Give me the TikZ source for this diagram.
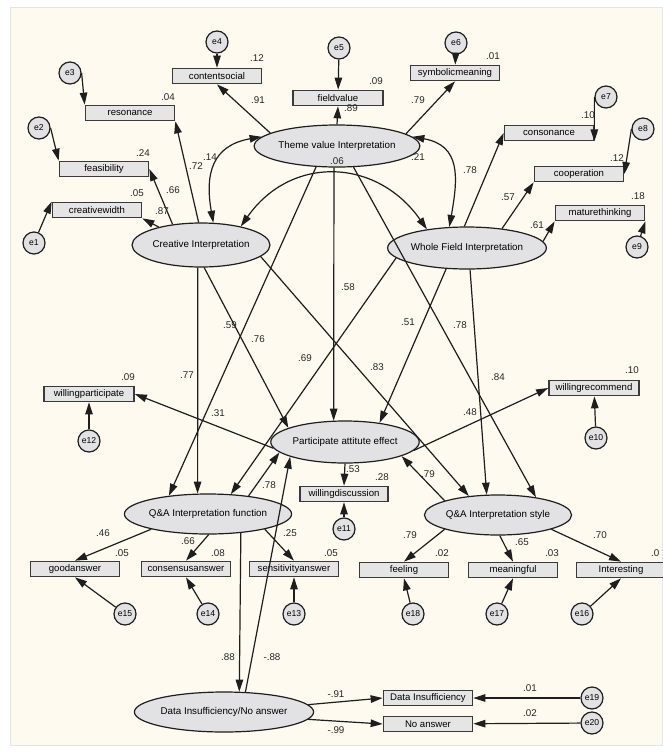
\documentclass[tikz,border=0pt]{standalone}
\usepackage{fontspec}
\setmainfont{Liberation Sans}
\usetikzlibrary{arrows.meta,shapes.geometric}
\definecolor{bgcream}{RGB}{254,250,239}
\definecolor{latfill}{RGB}{226,226,229}
\definecolor{boxfill}{RGB}{229,229,229}
\definecolor{edgegray}{RGB}{30,30,30}
\definecolor{boxline}{RGB}{58,58,58}
\tikzset{
  latent/.style={ellipse, draw=edgegray, line width=1.2pt, fill=latfill,
    inner sep=0pt, minimum height=42pt, font=\fontsize{9.8}{11}\selectfont},
  obsbox/.style={rectangle, draw=boxline, line width=1.7pt, fill=boxfill,
    minimum width=89pt, minimum height=15pt, inner sep=0pt,
    font=\fontsize{9.6}{10}\selectfont},
  errc/.style={circle, draw=edgegray, line width=1.2pt, fill=latfill,
    minimum size=22pt, inner sep=0pt, font=\fontsize{8.6}{9}\selectfont},
  pathln/.style={-{Triangle[length=12pt,width=7.5pt]}, line width=1.2pt, edgegray},
  covln/.style={{Triangle[length=12pt,width=7.5pt]}-{Triangle[length=12pt,width=7.5pt]},
    line width=1.2pt, edgegray},
  coef/.style={inner sep=0pt, font=\fontsize{9.8}{10}\selectfont, text=black!85},
}
\begin{document}
\begin{tikzpicture}[x=1pt,y=-1pt]
  % page, cream canvas
  \useasboundingbox (0,0) rectangle (662,753);
  \fill[white] (0,0) rectangle (662,753);
  \filldraw[fill=bgcream, draw=black!10] (10,7) rectangle (662,745);

  % latent variables
  \node[latent, minimum width=130pt] (theme) at (337,146) {Theme value Interpretation};
  \node[latent, minimum width=138pt, minimum height=44pt] (creative) at (201,245) {Creative Interpretation};
  \node[latent, minimum width=141pt] (whole) at (467,248) {Whole Field Interpretation};
  \node[latent, minimum width=136pt] (particip) at (345,442) {Participate attitute effect};
  \node[latent, minimum width=137pt, minimum height=40pt] (qafunc) at (208,514) {Q\&A Interpretation function};
  \node[latent, minimum width=137pt, minimum height=40pt] (qastyle) at (498,515) {Q\&A Interpretation style};
  \node[latent, minimum width=162pt, minimum height=40pt] (datains) at (224,712) {Data Insufficiency/No answer};

  % observed variables
  \node[obsbox] (contentsocial) at (217,76) {contentsocial};
  \node[obsbox] (resonance) at (130,113) {resonance};
  \node[obsbox] (feasibility) at (104,169) {feasibility};
  \node[obsbox] (creativewidth) at (97,210) {creativewidth};
  \node[obsbox, minimum width=90pt] (fieldvalue) at (338,98) {fieldvalue};
  \node[obsbox] (symbolic) at (455,73) {symbolicmeaning};
  \node[obsbox] (consonance) at (549,133) {consonance};
  \node[obsbox] (cooperation) at (579,174) {cooperation};
  \node[obsbox] (mature) at (600,213) {maturethinking};
  \node[obsbox, minimum width=90pt] (willpart) at (89,394) {willingparticipate};
  \node[obsbox, minimum width=90pt] (willrec) at (594,388) {willingrecommend};
  \node[obsbox, minimum width=88pt] (willdisc) at (344,494) {willingdiscussion};
  \node[obsbox] (goodans) at (75,569) {goodanswer};
  \node[obsbox] (consans) at (186,569) {consensusanswer};
  \node[obsbox] (sensans) at (294,569) {sensitivityanswer};
  \node[obsbox] (feeling) at (404,570) {feeling};
  \node[obsbox] (meaningful) at (513,570) {meaningful};
  \node[obsbox] (interesting) at (621,570) {Interesting};
  \node[obsbox] (datainsuff) at (428,698) {Data Insufficiency};
  \node[obsbox] (noanswer) at (428,724) {No answer};

  % error terms
  \node[errc] (e1) at (34,243) {e1};
  \node[errc] (e2) at (39,128) {e2};
  \node[errc] (e3) at (70,73) {e3};
  \node[errc] (e4) at (217,42) {e4};
  \node[errc] (e5) at (339,48) {e5};
  \node[errc] (e6) at (456,43) {e6};
  \node[errc] (e7) at (606,97) {e7};
  \node[errc] (e8) at (643,129) {e8};
  \node[errc] (e9) at (637,247) {e9};
  \node[errc] (e10) at (596,438) {e10};
  \node[errc] (e11) at (344,529) {e11};
  \node[errc] (e12) at (89,441) {e12};
  \node[errc] (e13) at (294,614) {e13};
  \node[errc] (e14) at (208,614) {e14};
  \node[errc] (e15) at (125,614) {e15};
  \node[errc] (e16) at (582,614) {e16};
  \node[errc] (e17) at (497,614) {e17};
  \node[errc] (e18) at (413,614) {e18};
  \node[errc] (e19) at (592,698) {e19};
  \node[errc] (e20) at (592,723) {e20};

  % error arrows
  \draw[pathln] (e1) -- (creativewidth.north west);
  \draw[pathln] (e2.east) -- (feasibility.north west);
  \draw[pathln] (e3.east) -- (resonance.north west);
  \draw[pathln] (e4) -- (contentsocial);
  \draw[pathln] (e5) -- (fieldvalue);
  \draw[pathln] (e6) -- (symbolic);
  \draw[pathln] (e7.west) -- (consonance.south east);
  \draw[pathln] (e8.west) -- (cooperation.east);
  \draw[pathln] (e9) -- (mature.south east);
  \draw[pathln] (e10) -- (willrec);
  \draw[pathln] (e11) -- (willdisc);
  \draw[pathln] (e12) -- (willpart);
  \draw[pathln] (e13) -- (sensans);
  \draw[pathln] (e14) -- (consans.south);
  \draw[pathln] (e15) -- (goodans.south);
  \draw[pathln] (e16) -- (interesting.south);
  \draw[pathln] (e17) -- (meaningful.south);
  \draw[pathln] (e18) -- (feeling.south);
  \draw[pathln] (e19) -- (datainsuff);
  \draw[pathln] (e20) -- (noanswer);

  % loadings
  \draw[pathln] (theme.169) -- (contentsocial.south);
  \draw[pathln] (theme.north) -- (fieldvalue.south);
  \draw[pathln] (theme.10) -- (symbolic.south);
  \draw[pathln] (creative.157) -- (creativewidth.south east);
  \draw[pathln] (creative.144) -- (feasibility.east);
  \draw[pathln] (creative.96) -- (resonance.south east);
  \draw[pathln] (whole.97) -- (consonance.west);
  \draw[pathln] (whole.29) -- (cooperation.south west);
  \draw[pathln] (whole.5) -- (mature.south west);
  \draw[pathln] (particip.-175) -- (willpart.east);
  \draw[pathln] (particip.-7) -- (willrec.west);
  \draw[pathln] (particip.south) -- (willdisc.north);
  \draw[pathln] (qafunc.-165) -- (goodans.north);
  \draw[pathln] (qafunc.-88) -- (consans.north);
  \draw[pathln] (qafunc.-15) -- (sensans.north);
  \draw[pathln] (qastyle.-165) -- (feeling.north);
  \draw[pathln] (qastyle.-85) -- (meaningful.north);
  \draw[pathln] (qastyle.-15) -- (interesting.north);
  \draw[pathln] (datains.5) -- (datainsuff.west);
  \draw[pathln] (datains.-5) -- (noanswer.west);

  % covariances
  \draw[covln] (theme.173) to[out=190, in=100, looseness=1.3] (creative.61);
  \draw[covln] (theme.7) to[out=-10, in=80, looseness=1.3] (whole.130);
  \draw[covln] (creative.25) to[out=55, in=125, looseness=1.2] (whole.155);

  % structural paths
  \draw[pathln] (theme.-98) -- (particip.118);
  \draw[pathln] (theme.-135) -- (qafunc.155);
  \draw[pathln] (theme.-52) -- (qastyle.25);
  \draw[pathln] (creative.-98) -- (qafunc.117);
  \draw[pathln] (creative.-82) -- (particip.166);
  \draw[pathln] (creative.-11) -- (qastyle.147);
  \draw[pathln] (whole.-172) -- (qafunc.41);
  \draw[pathln] (whole.-135) -- (particip.29);
  \draw[pathln] (whole.-82) -- (qastyle.119);
  \draw[pathln] (qafunc.24) -- (particip.-171);
  \draw[pathln] (qastyle.165) -- (particip.-14);
  \draw[pathln] (qafunc.-30) -- (datains.53);
  \draw[pathln] (datains.43) -- (particip.-165);

  % squared multiple correlations
  \node[coef] (r-contentsocial) at (257,58) {.12};
  \node[coef] (r-resonance) at (168,97) {.04};
  \node[coef] (r-feasibility) at (143,153) {.24};
  \node[coef] (r-creativewidth) at (137,193) {.05};
  \node[coef] (r-fieldvalue) at (376,81) {.09};
  \node[coef] (r-symbolic) at (493,56) {.01};
  \node[coef] (r-consonance) at (588,115) {.10};
  \node[coef] (r-cooperation) at (617,158) {.12};
  \node[coef] (r-mature) at (638,196) {.18};
  \node[coef] (r-willpart) at (128,377) {.09};
  \node[coef] (r-willrec) at (632,370) {.10};
  \node[coef] (r-willdisc) at (382,477) {.28};
  \node[coef] (r-goodans) at (122,553) {.05};
  \node[coef] (r-consans) at (218,553) {.08};
  \node[coef] (r-sensans) at (331,553) {.05};
  \node[coef] (r-feeling) at (442,553) {.02};
  \node[coef] (r-meaningful) at (552,553) {.03};
  \node[coef, anchor=west] (r-interesting) at (651,553) {.0};
  \node[coef] (r-datainsuff) at (530,688) {.01};
  \node[coef] (r-noanswer) at (530,713) {.02};

  % path coefficients
  \node[coef] (w-contentsocial) at (258,100) {.91};
  \node[coef] (w-fieldvalue) at (351,108) {.89};
  \node[coef] (w-symbolic) at (418,100) {.79};
  \node[coef] (w-resonance) at (196,166) {.72};
  \node[coef] (c-theme-creative) at (210,157) {.14};
  \node[coef] (w-feasibility) at (173,190) {.66};
  \node[coef] (w-creativewidth) at (162,211) {.87};
  \node[coef] (c-creative-whole) at (337,161) {.06};
  \node[coef] (c-theme-whole) at (418,157) {.21};
  \node[coef] (w-consonance) at (470,170) {.78};
  \node[coef] (w-cooperation) at (508,197) {.57};
  \node[coef] (w-mature) at (537,225) {.61};
  \node[coef] (b-theme-qafunc) at (230,325) {.59};
  \node[coef] (b-creative-particip) at (258,339) {.76};
  \node[coef] (b-creative-qafunc) at (187,375) {.77};
  \node[coef] (b-theme-particip) at (348,287) {.58};
  \node[coef] (b-whole-qafunc) at (305,358) {.69};
  \node[coef] (b-whole-particip) at (408,322) {.51};
  \node[coef] (b-creative-qastyle) at (377,367) {.83};
  \node[coef] (b-theme-qastyle) at (460,325) {.78};
  \node[coef] (b-whole-qastyle) at (498,377) {.84};
  \node[coef] (w-willpart) at (218,413) {.31};
  \node[coef] (w-willrec) at (470,412) {.48};
  \node[coef] (w-willdisc) at (353,469) {.53};
  \node[coef] (b-qafunc-particip) at (269,485) {.78};
  \node[coef] (b-qastyle-particip) at (428,474) {.79};
  \node[coef] (w-goodans) at (103,533) {.46};
  \node[coef] (w-consans) at (188,541) {.66};
  \node[coef] (w-sensans) at (290,533) {.25};
  \node[coef] (w-feeling) at (410,535) {.79};
  \node[coef] (w-meaningful) at (522,542) {.65};
  \node[coef] (w-interesting) at (600,535) {.70};
  \node[coef] (b-qafunc-datains) at (228,657) {.88};
  \node[coef] (b-datains-particip) at (272,657) {-.88};
  \node[coef] (w-datainsuff) at (336,694) {-.91};
  \node[coef] (w-noanswer) at (336,730) {-.99};
\end{tikzpicture}
\end{document}
